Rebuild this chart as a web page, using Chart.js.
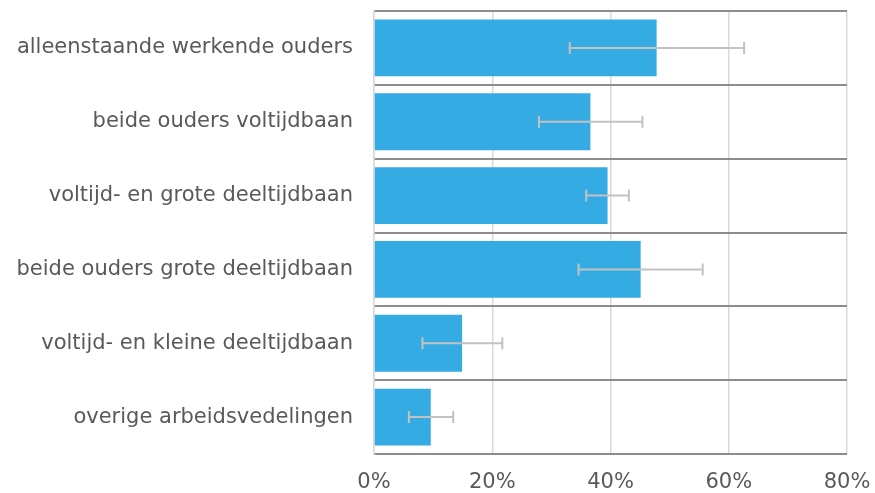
<!DOCTYPE html>
<html>
<head>
<meta charset="utf-8">
<script src="https://cdn.jsdelivr.net/npm/chart.js@4"></script>
<style>
  html, body { margin: 0; padding: 0; background: #fff; }
  #wrap { width: 875px; height: 493px; position: relative; }
</style>
</head>
<body>
<div id="wrap"><canvas id="chart"></canvas></div>
<script>
// Categories and values (percent)
const categories = [
    'alleenstaande werkende ouders',
    'beide ouders voltijdbaan',
    'voltijd- en grote deeltijdbaan',
    'beide ouders grote deeltijdbaan',
    'voltijd- en kleine deeltijdbaan',
    'overige arbeidsvedelingen'
];
const values = [47.8, 36.6, 39.5, 45.1, 14.9, 9.6];
const errLow = [33.1, 27.9, 35.9, 34.6, 8.2, 5.9];
const errHigh = [62.6, 45.4, 43.1, 55.6, 21.7, 13.4];
const xTicks = [0, 20, 40, 60, 80];

// Draw error bars on top of the bars
const errorBars = {
    id: 'errorBars',
    afterDatasetsDraw(chart) {
        const ctx = chart.ctx;
        const x = chart.scales.x;
        const y = chart.scales.y;
        ctx.save();
        ctx.strokeStyle = '#c2c2c2';
        ctx.lineWidth = 2;
        for (let i = 0; i < categories.length; i++) {
            const yc = y.getPixelForValue(i);
            const x1 = x.getPixelForValue(errLow[i]);
            const x2 = x.getPixelForValue(errHigh[i]);
            ctx.beginPath();
            ctx.moveTo(x1, yc);
            ctx.lineTo(x2, yc);
            ctx.moveTo(x1, yc - 6);
            ctx.lineTo(x1, yc + 6);
            ctx.moveTo(x2, yc - 6);
            ctx.lineTo(x2, yc + 6);
            ctx.stroke();
        }
        ctx.restore();
    }
};

// drop the extra room Chart.js reserves for edge labels
function noPad(axis) {
    axis.paddingTop = 0;
    axis.paddingBottom = 0;
    axis.paddingLeft = 0;
    axis.paddingRight = 0;
}

const font = { family: 'DejaVu Sans', size: 21 };

new Chart(document.getElementById('chart'), {
    type: 'bar',
    data: {
        labels: categories,
        datasets: [{
            data: values,
            backgroundColor: '#34abe2',
            categoryPercentage: 1,
            barPercentage: 0.77
        }]
    },
    options: {
        indexAxis: 'y',
        responsive: true,
        maintainAspectRatio: false,
        animation: false,
        layout: { padding: { top: 11, right: 28, left: 0, bottom: 0 } },
        plugins: {
            legend: { display: false },
            tooltip: { enabled: false }
        },
        scales: {
            x: {
                min: 0,
                max: 80,
                afterBuildTicks(axis) {
                    axis.ticks = xTicks.map(v => ({ value: v }));
                },
                afterFit(axis) { axis.height = 39; noPad(axis); },
                ticks: {
                    color: '#595959',
                    font: font,
                    padding: 16,
                    callback: v => v + '%'
                },
                grid: { color: '#d9d9d9', lineWidth: 1.5, drawTicks: false },
                border: { display: false }
            },
            y: {
                afterFit(axis) { axis.width = 374; noPad(axis); },
                ticks: { color: '#595959', font: font, padding: 21 },
                grid: { color: '#8c8c8c', lineWidth: 2, drawTicks: false, offset: true },
                border: { color: '#d9d9d9', width: 1.5 }
            }
        }
    },
    plugins: [errorBars]
});
</script>
</body>
</html>
